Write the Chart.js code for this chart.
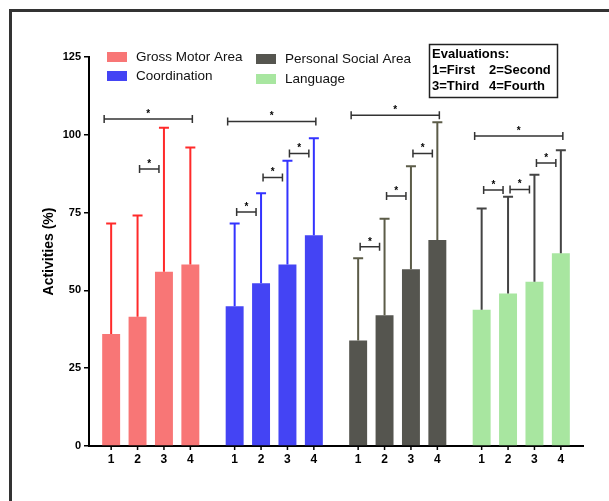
<!DOCTYPE html>
<html>
<head>
<meta charset="utf-8">
<script src="https://cdn.jsdelivr.net/npm/chart.js@4.4.1/dist/chart.umd.min.js"></script>
<style>
  body { margin: 0; background: #fff; }
  #wrap { width: 609px; height: 501px; }
</style>
</head>
<body>
<div id="wrap"><canvas id="myChart" width="609" height="501"></canvas></div>
<script>
// 데이터
const areas = ['Gross Motor Area', 'Coordination', 'Personal Social Area', 'Language'];
const evaluations = ['1', '2', '3', '4'];
const yTicks = [0, 25, 50, 75, 100, 125];

// 평균값 (평가 1~4)
const grossMotor = [36, 41.5, 56, 58.3];
const coordination = [44.9, 52.3, 58.3, 67.7];
const personalSocial = [33.9, 42, 56.8, 66.2];
const language = [43.8, 49, 52.8, 61.9];

// 오차 막대 위쪽 끝값
const grossMotorUpper = [71.5, 74.1, 102.3, 95.9];
const coordinationUpper = [71.5, 81.2, 91.7, 98.9];
const personalSocialUpper = [60.3, 73, 89.9, 104];
const languageUpper = [76.3, 80.1, 87.2, 95];

// 유의성 표시: [영역, 시작 평가, 끝 평가, 높이]
const brackets = [
  [0, 0, 3, 105.1], [0, 1, 2, 89],
  [1, 0, 3, 104.3], [1, 0, 1, 75.2], [1, 1, 2, 86.3], [1, 2, 3, 94],
  [2, 0, 3, 106.3], [2, 0, 1, 64], [2, 1, 2, 80.3], [2, 2, 3, 94],
  [3, 0, 3, 99.6], [3, 0, 1, 82.3], [3, 1, 2, 82.4], [3, 2, 3, 90.9]
];

const means = [grossMotor, coordination, personalSocial, language];
const uppers = [grossMotorUpper, coordinationUpper, personalSocialUpper, languageUpper];

const barColors = ['#f87676', '#4444f4', '#55554f', '#a8e6a0'];
const errColors = ['#ff2a2a', '#3333ff', '#5c5c48', '#444444'];

const FONT = 'Arial, "Liberation Sans", sans-serif';

const overlay = {
  id: 'overlay',
  beforeDraw(chart) {
    const ctx = chart.ctx;
    ctx.save();
    ctx.fillStyle = '#333';
    ctx.fillRect(9, 9, 600, 3);
    ctx.fillRect(9, 9, 3, 492);
    ctx.restore();
  },
  afterDatasetsDraw(chart) {
    const ctx = chart.ctx;
    const y = chart.scales.y;
    const area = chart.chartArea;
    const barX = (a, e) => chart.getDatasetMeta(e).data[a].x;
    ctx.save();

    // 오차 막대
    evaluations.forEach((ev, e) => {
      chart.getDatasetMeta(e).data.forEach((bar, a) => {
        const top = y.getPixelForValue(uppers[a][e]);
        ctx.strokeStyle = errColors[a];
        ctx.lineWidth = 2;
        ctx.beginPath();
        ctx.moveTo(bar.x, bar.y);
        ctx.lineTo(bar.x, top);
        ctx.moveTo(bar.x - 5, top);
        ctx.lineTo(bar.x + 5, top);
        ctx.stroke();
      });
    });

    // 유의성 괄호
    ctx.strokeStyle = '#333';
    ctx.fillStyle = '#000';
    ctx.lineWidth = 1.5;
    ctx.font = 'bold 10px ' + FONT;
    ctx.textAlign = 'center';
    ctx.textBaseline = 'middle';
    brackets.forEach(([a, from, to, val]) => {
      const long = (to - from) === 3;
      const x1 = barX(a, from) + (long ? -7 : 2);
      const x2 = barX(a, to) + (long ? 2 : -5);
      const py = y.getPixelForValue(val);
      ctx.beginPath();
      ctx.moveTo(x1, py); ctx.lineTo(x2, py);
      ctx.moveTo(x1, py - 4); ctx.lineTo(x1, py + 4);
      ctx.moveTo(x2, py - 4); ctx.lineTo(x2, py + 4);
      ctx.stroke();
      ctx.fillText('*', (x1 + x2) / 2, py - 5);
    });

    // x축 눈금과 라벨
    ctx.strokeStyle = '#000';
    ctx.lineWidth = 1.5;
    ctx.font = 'bold 12px ' + FONT;
    evaluations.forEach((ev, e) => {
      chart.getDatasetMeta(e).data.forEach(bar => {
        ctx.beginPath();
        ctx.moveTo(bar.x, area.bottom);
        ctx.lineTo(bar.x, area.bottom + 4);
        ctx.stroke();
        ctx.fillText(ev, bar.x, area.bottom + 14);
      });
    });
    ctx.restore();
  },
  afterDraw(chart) {
    const ctx = chart.ctx;
    ctx.save();
    // 범례
    const items = [
      [107, 52, 0], [107, 71, 1], [256, 54, 2], [256, 74, 3]
    ];
    ctx.font = '13.5px ' + FONT;
    ctx.textBaseline = 'middle';
    ctx.textAlign = 'left';
    items.forEach(([x, yy, a]) => {
      ctx.fillStyle = barColors[a];
      ctx.fillRect(x, yy, 20, 10);
      ctx.fillStyle = '#111';
      ctx.fillText(areas[a], x + 29, yy + 5);
    });
    // 평가 설명 상자
    ctx.strokeStyle = '#222';
    ctx.lineWidth = 1.5;
    ctx.strokeRect(429.5, 44.5, 128, 53);
    ctx.fillStyle = '#000';
    ctx.font = 'bold 13px ' + FONT;
    ctx.fillText('Evaluations:', 432, 54);
    ctx.fillText('1=First', 432, 70);
    ctx.fillText('2=Second', 489, 70);
    ctx.fillText('3=Third', 432, 86);
    ctx.fillText('4=Fourth', 489, 86);
    ctx.restore();
  }
};

const chartCanvas = document.getElementById('myChart');
const myChart = new Chart(chartCanvas, {
  type: 'bar',
  data: {
    labels: areas,
    datasets: evaluations.map((ev, e) => ({
      label: ev,
      data: means.map(m => m[e]),
      backgroundColor: barColors,
      categoryPercentage: 0.855,
      barPercentage: 0.68
    }))
  },
  options: {
    responsive: false,
    animation: false,
    layout: { padding: { left: 40, top: 57, right: 26, bottom: 0 } },
    plugins: { legend: { display: false }, tooltip: { enabled: false } },
    scales: {
      x: {
        ticks: { display: false },
        grid: { display: false },
        border: { display: true, color: '#000', width: 2 },
        afterFit: s => { s.height = 55; }
      },
      y: {
        min: 0,
        max: 125,
        afterBuildTicks: s => { s.ticks = yTicks.map(v => ({ value: v })); },
        ticks: { color: '#000', font: { family: FONT, size: 11, weight: 'bold' }, padding: 3 },
        grid: { drawOnChartArea: false, drawTicks: true, tickLength: 5, color: '#000', lineWidth: 1.5 },
        border: { display: true, color: '#000', width: 2 },
        title: {
          display: true,
          text: 'Activities (%)',
          color: '#000',
          font: { family: FONT, size: 14, weight: 'bold' },
          padding: { top: 1, bottom: 0 }
        },
        afterFit: s => { s.width = 49; }
      }
    }
  },
  plugins: [overlay]
});
</script>
</body>
</html>
